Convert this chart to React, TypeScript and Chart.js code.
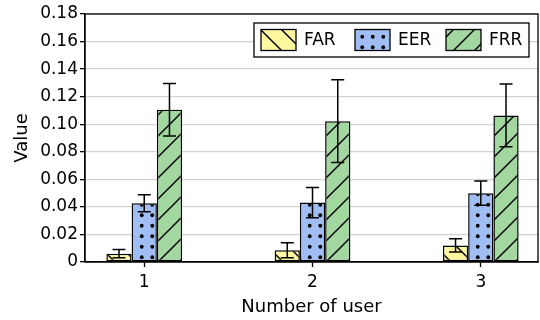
import React, { useEffect, useRef } from 'react';
import { Chart, registerables } from 'chart.js';

Chart.register(...registerables);

const users = [1, 2, 3];
const seriesLabels = ['FAR', 'EER', 'FRR'];
const farValues = [0.006, 0.0085, 0.012];
const farErrors = [0.003, 0.0055, 0.0048];
const eerValues = [0.0426, 0.0431, 0.0499];
const eerErrors = [0.0062, 0.011, 0.0088];
const frrValues = [0.1105, 0.1022, 0.1064];
const frrErrors = [0.019, 0.03, 0.0228];
const yTicks = [0, 0.02, 0.04, 0.06, 0.08, 0.1, 0.12, 0.14, 0.16, 0.18];

const FONT = 'DejaVu Sans';
const COLORS = ['#fdf7a0', '#a0bef4', '#a2d8a0'];
const HATCHES = ['back', 'dots', 'fwd'];

function makePattern(bg: string, kind: string): CanvasPattern | string {
  const s = 21;
  const c = document.createElement('canvas');
  c.width = s;
  c.height = s;
  const ctx = c.getContext('2d');
  if (!ctx) return bg;
  ctx.fillStyle = bg;
  ctx.fillRect(0, 0, s, s);
  ctx.strokeStyle = '#000';
  ctx.fillStyle = '#000';
  ctx.lineWidth = 1.5;
  if (kind === 'fwd') {
    for (let k = 0; k <= 2; k++) {
      ctx.beginPath();
      ctx.moveTo(-2, k * s + 2);
      ctx.lineTo(s + 2, k * s - s - 2);
      ctx.stroke();
    }
  } else if (kind === 'back') {
    for (let k = -1; k <= 1; k++) {
      ctx.beginPath();
      ctx.moveTo(-2, k * s - 2);
      ctx.lineTo(s + 2, k * s + s + 2);
      ctx.stroke();
    }
  } else {
    const pts = [s / 4, (3 * s) / 4];
    for (const px of pts) {
      for (const py of pts) {
        ctx.beginPath();
        ctx.arc(px, py, 1.9, 0, Math.PI * 2);
        ctx.fill();
      }
    }
  }
  const p = ctx.createPattern(c, 'repeat');
  return p || bg;
}

export default function App() {
  const ref = useRef<HTMLCanvasElement | null>(null);

  useEffect(() => {
    const canvas = ref.current;
    if (!canvas) return;
    const values = [farValues, eerValues, frrValues];
    const errors = [farErrors, eerErrors, frrErrors];
    const patterns = COLORS.map((c, i) => makePattern(c, HATCHES[i]));

    const overlay = {
      id: 'overlay',
      afterDatasetsDraw(chart: any) {
        const ctx = chart.ctx as CanvasRenderingContext2D;
        const ys = chart.scales.y;
        const area = chart.chartArea;
        ctx.save();
        // error bars
        ctx.strokeStyle = '#000';
        ctx.lineWidth = 1.5;
        chart.data.datasets.forEach((_ds: any, di: number) => {
          const meta = chart.getDatasetMeta(di);
          meta.data.forEach((bar: any, i: number) => {
            const v = values[di][i];
            const e = errors[di][i];
            const yTop = ys.getPixelForValue(v + e);
            const yBot = ys.getPixelForValue(v - e);
            const x = bar.x;
            const cap = 6.5;
            ctx.beginPath();
            ctx.moveTo(x, yTop);
            ctx.lineTo(x, yBot);
            ctx.moveTo(x - cap, yTop);
            ctx.lineTo(x + cap, yTop);
            ctx.moveTo(x - cap, yBot);
            ctx.lineTo(x + cap, yBot);
            ctx.stroke();
          });
        });
        // frame
        ctx.lineWidth = 1.3;
        ctx.strokeRect(area.left, area.top, area.right - area.left, area.bottom - area.top);
        // legend
        const lx = 254, ly = 23, lw = 275, lh = 34;
        ctx.fillStyle = '#fff';
        ctx.fillRect(lx, ly, lw, lh);
        ctx.lineWidth = 1.3;
        ctx.strokeStyle = '#000';
        ctx.strokeRect(lx, ly, lw, lh);
        const swX = [261, 355, 446];
        ctx.font = `17px "${FONT}"`;
        ctx.textBaseline = 'middle';
        ctx.textAlign = 'left';
        seriesLabels.forEach((lab, i) => {
          ctx.fillStyle = patterns[i] as any;
          ctx.fillRect(swX[i], 29.5, 35, 21);
          ctx.lineWidth = 1.3;
          ctx.strokeStyle = '#000';
          ctx.strokeRect(swX[i], 29.5, 35, 21);
          ctx.fillStyle = '#000';
          ctx.fillText(lab, swX[i] + 43, 41);
        });
        ctx.restore();
      },
    };

    const chart = new Chart(canvas, {
      type: 'bar',
      data: {
        datasets: seriesLabels.map((lab, di) => ({
          label: lab,
          data: users.map((u, i) => ({ x: u, y: values[di][i] })),
          backgroundColor: patterns[di] as any,
          borderColor: '#000',
          borderWidth: 1.5,
          borderSkipped: false,
          categoryPercentage: 0.45,
          barPercentage: 1,
        })),
      },
      options: {
        animation: false,
        responsive: false,
        maintainAspectRatio: false,
        layout: { padding: { top: 14, right: 2, left: 0, bottom: 0 } },
        plugins: { legend: { display: false }, tooltip: { enabled: false } },
        scales: {
          x: {
            type: 'linear',
            offset: false,
            min: 0.648,
            max: 3.34,
            afterBuildTicks: (s: any) => {
              s.ticks = users.map((v) => ({ value: v }));
            },
            afterFit: (s: any) => {
              s.height = 58;
            },
            grid: {
              offset: false,
              drawOnChartArea: false,
              tickColor: '#000',
              tickLength: 5,
              tickWidth: 1.3,
            },
            border: { color: '#000', width: 1.3 },
            ticks: {
              font: { family: FONT, size: 17 },
              color: '#000',
              padding: 5,
              maxRotation: 0,
              callback: (v: any) => String(v),
            },
            title: {
              display: true,
              text: 'Number of user',
              font: { family: FONT, size: 18 },
              color: '#000',
              padding: { top: 0, bottom: 2 },
            },
          },
          y: {
            type: 'linear',
            min: 0,
            max: 0.18,
            afterBuildTicks: (s: any) => {
              s.ticks = yTicks.map((v) => ({ value: v }));
            },
            afterFit: (s: any) => {
              s.width = 85;
            },
            grid: {
              color: '#d3d3d3',
              lineWidth: 1.3,
              tickColor: '#000',
              tickLength: 5,
              tickWidth: 1.3,
            },
            border: { color: '#000', width: 1.3 },
            ticks: {
              font: { family: FONT, size: 17 },
              color: '#000',
              padding: 2,
              callback: (v: any) => (v === 0 ? '0' : Number(v).toFixed(2)),
            },
            title: {
              display: true,
              text: 'Value',
              font: { family: FONT, size: 18 },
              color: '#000',
              padding: { top: 12, bottom: 0 },
            },
          },
        },
      },
      plugins: [overlay],
    } as any);

    return () => {
      chart.destroy();
    };
  }, []);

  return (
    <div style={{ position: 'fixed', left: 0, top: 0, width: 540, height: 320, background: '#fff' }}>
      <canvas ref={ref} width={540} height={320} style={{ width: 540, height: 320, display: 'block' }} />
    </div>
  );
}
